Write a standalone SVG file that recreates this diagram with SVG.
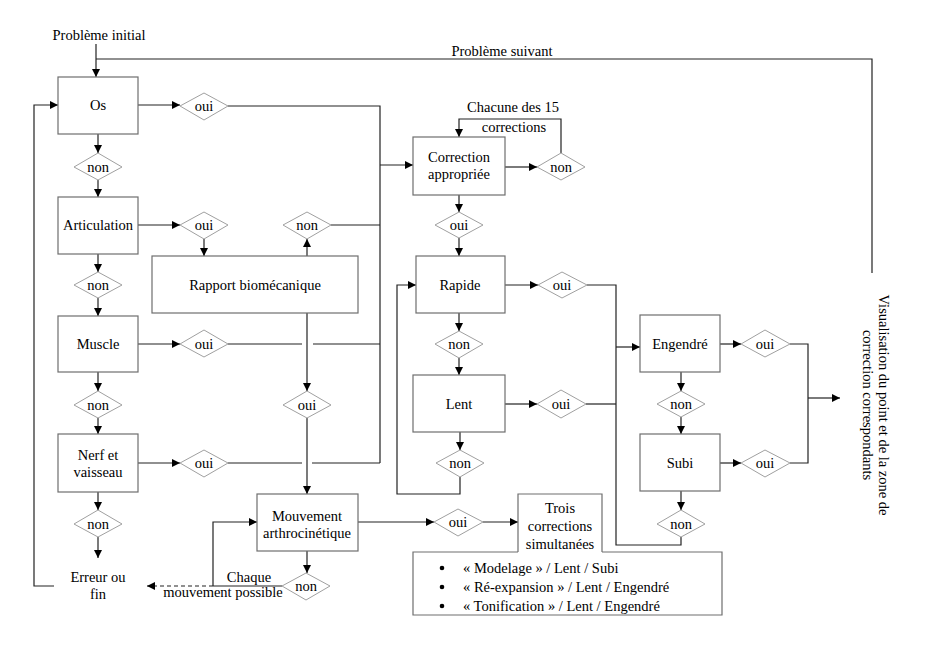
<svg xmlns="http://www.w3.org/2000/svg" width="929" height="659" viewBox="0 0 929 659">
<style>
text{font-family:"Liberation Serif","Times New Roman",serif;font-size:14.5px;fill:#000}
.c{text-anchor:middle}
.box{fill:#fff;stroke:#6e6e6e;stroke-width:1.2}
.dia{fill:#fff;stroke:#a0a0a0;stroke-width:1}
.ln{fill:none;stroke:#222;stroke-width:1.2}
.ar{marker-end:url(#ah)}
.dash{stroke-dasharray:4 3}
</style>
<defs>
<marker id="ah" viewBox="0 0 10 10" refX="10" refY="5" markerUnits="userSpaceOnUse" markerWidth="9" markerHeight="8" orient="auto">
<path d="M0,0 L10,5 L0,10 z" fill="#000"/>
</marker>
</defs>
<rect width="929" height="659" fill="#fff"/>

<g id="connectors">
<path class="ln ar" d="M96,44 V77"/>
<path class="ln" d="M872,273 V59 H96"/>
<path class="ln ar" d="M138,105 H180"/>
<path class="ln" d="M228,106 H380 V463"/>
<path class="ln ar" d="M380,165 H413"/>
<path class="ln ar" d="M98,134 V153"/>
<path class="ln ar" d="M98,180 V197"/>
<path class="ln ar" d="M138,225 H180"/>
<path class="ln ar" d="M204,239 V256"/>
<path class="ln ar" d="M307,256 V239"/>
<path class="ln" d="M331,225 H380"/>
<path class="ln ar" d="M98,254 V272"/>
<path class="ln ar" d="M98,298 V316"/>
<path class="ln ar" d="M138,344 H180"/>
<path class="ln" d="M228,344 H302 M313,344 H380"/>
<path class="ln ar" d="M98,372 V391"/>
<path class="ln ar" d="M98,418 V434"/>
<path class="ln ar" d="M138,463 H180"/>
<path class="ln" d="M228,463 H302 M312,463 H380"/>
<path class="ln ar" d="M98,492 V510"/>
<path class="ln ar" d="M98,537 V558"/>
<path class="ln ar" d="M54,586 H34 V105 H58"/>
<path class="ln ar" d="M307,313 V391"/>
<path class="ln ar" d="M307,418 V494"/>
<path class="ln ar" d="M307,551 V573"/>
<path class="ln" d="M282,586 H213"/>
<path class="ln ar dash" d="M213,586 H147"/>
<path class="ln ar" d="M213,586 V522 H257"/>
<path class="ln ar" d="M358,522 H434"/>
<path class="ln ar" d="M483,522 H518"/>
<path class="ln ar" d="M505,167 H537"/>
<path class="ln ar" d="M561,153 V119 H459 V137"/>
<path class="ln ar" d="M459,195 V212"/>
<path class="ln ar" d="M459,238 V256"/>
<path class="ln ar" d="M505,285 H538"/>
<path class="ln" d="M587,285 H616 V545 H681 V537"/>
<path class="ln ar" d="M616,347 H640"/>
<path class="ln ar" d="M459,313 V331"/>
<path class="ln ar" d="M459,358 V375"/>
<path class="ln ar" d="M505,404 H537"/>
<path class="ln" d="M586,404 H616"/>
<path class="ln ar" d="M460,432 V450"/>
<path class="ln ar" d="M460,477 V494 H397 V285 H416"/>
<path class="ln ar" d="M720,344 H741"/>
<path class="ln" d="M790,344 H808 V463 H790"/>
<path class="ln ar" d="M808,398 H840"/>
<path class="ln ar" d="M681,372 V391"/>
<path class="ln ar" d="M681,417 V434"/>
<path class="ln ar" d="M720,463 H741"/>
<path class="ln ar" d="M681,491 V510"/>
</g>

<g id="labels">
<text class="c" x="99" y="40">Problème initial</text>
<text class="c" x="502" y="56">Problème suivant</text>
<text class="c" x="513" y="112">Chacune des 15</text>
<text class="c" x="514" y="132">corrections</text>
<text class="c" x="249" y="582">Chaque</text>
<text class="c" x="223" y="597">mouvement possible</text>
</g>

<g id="os"><rect class="box" x="58" y="77" width="80" height="57"/><text class="c" x="98" y="110">Os</text></g>
<g id="articulation"><rect class="box" x="58" y="197" width="80" height="57"/><text class="c" x="98" y="230">Articulation</text></g>
<g id="muscle"><rect class="box" x="58" y="316" width="80" height="56"/><text class="c" x="98" y="349">Muscle</text></g>
<g id="nerf"><rect class="box" x="58" y="434" width="80" height="58"/><text class="c" x="98" y="460">Nerf et</text><text class="c" x="98" y="477">vaisseau</text></g>
<g id="erreur"><text class="c" x="98" y="582">Erreur ou</text><text class="c" x="98" y="599">fin</text></g>
<g id="rapport"><rect class="box" x="152" y="256" width="206" height="57"/><text class="c" x="255" y="290">Rapport biomécanique</text></g>
<g id="mouvement"><rect class="box" x="257" y="494" width="101" height="57"/><text class="c" x="307" y="521">Mouvement</text><text class="c" x="307" y="538">arthrocinétique</text></g>
<g id="correction"><rect class="box" x="413" y="137" width="92" height="58"/><text class="c" x="459" y="162">Correction</text><text class="c" x="459" y="179">appropriée</text></g>
<g id="rapide"><rect class="box" x="416" y="256" width="89" height="57"/><text class="c" x="460" y="290">Rapide</text></g>
<g id="lent"><rect class="box" x="413" y="375" width="92" height="57"/><text class="c" x="459" y="409">Lent</text></g>
<g id="engendre"><rect class="box" x="640" y="315" width="80" height="57"/><text class="c" x="680" y="349">Engendré</text></g>
<g id="subi"><rect class="box" x="640" y="434" width="80" height="57"/><text class="c" x="680" y="468">Subi</text></g>
<g id="trois"><path class="box" d="M518,552 V494 H602 V552"/><text class="c" x="560" y="513">Trois</text><text class="c" x="560" y="531">corrections</text><text class="c" x="560" y="549">simultanées</text></g>
<g id="liste"><path class="box" fill="none" d="M518,552 H413 V615 H722 V552 H602"/>
<circle cx="442" cy="568" r="2.3" fill="#000"/><circle cx="442" cy="587" r="2.3" fill="#000"/><circle cx="442" cy="606" r="2.3" fill="#000"/>
<text x="463" y="573">« Modelage » / Lent / Subi</text>
<text x="463" y="592">« Ré-expansion » / Lent / Engendré</text>
<text x="463" y="611">« Tonification » / Lent / Engendré</text></g>
<g id="visualisation"><text class="c" transform="translate(879,405) rotate(90)">Visualisation du point et de la zone de</text><text class="c" transform="translate(863,405) rotate(90)">correction correspondants</text></g>

<g id="d-os-oui"><path class="dia" d="M180,106 L204,93 L228,106 L204,120 z"/><text class="c" x="204" y="111">oui</text></g>
<g id="d-os-non"><path class="dia" d="M74,167 L98,153 L122,167 L98,180 z"/><text class="c" x="98" y="172">non</text></g>
<g id="d-art-oui"><path class="dia" d="M180,225 L204,212 L228,225 L204,239 z"/><text class="c" x="204" y="230">oui</text></g>
<g id="d-rap-non"><path class="dia" d="M283,225 L307,212 L331,225 L307,239 z"/><text class="c" x="307" y="230">non</text></g>
<g id="d-art-non"><path class="dia" d="M74,285 L98,272 L122,285 L98,298 z"/><text class="c" x="98" y="290">non</text></g>
<g id="d-mus-oui"><path class="dia" d="M180,344 L204,330 L228,344 L204,357 z"/><text class="c" x="204" y="349">oui</text></g>
<g id="d-mus-non"><path class="dia" d="M74,405 L98,391 L122,405 L98,418 z"/><text class="c" x="98" y="410">non</text></g>
<g id="d-rap-oui"><path class="dia" d="M283,405 L307,391 L331,405 L307,418 z"/><text class="c" x="307" y="410">oui</text></g>
<g id="d-ner-oui"><path class="dia" d="M180,463 L204,450 L228,463 L204,477 z"/><text class="c" x="204" y="468">oui</text></g>
<g id="d-ner-non"><path class="dia" d="M74,524 L98,510 L122,524 L98,537 z"/><text class="c" x="98" y="529">non</text></g>
<g id="d-mou-non"><path class="dia" d="M282,586 L306,573 L330,586 L306,600 z"/><text class="c" x="306" y="591">non</text></g>
<g id="d-mou-oui"><path class="dia" d="M434,522 L458,509 L483,522 L458,536 z"/><text class="c" x="458" y="527">oui</text></g>
<g id="d-cor-non"><path class="dia" d="M537,167 L561,153 L585,167 L561,180 z"/><text class="c" x="561" y="172">non</text></g>
<g id="d-cor-oui"><path class="dia" d="M435,225 L459,212 L483,225 L459,238 z"/><text class="c" x="459" y="230">oui</text></g>
<g id="d-rpd-oui"><path class="dia" d="M538,285 L562,272 L587,285 L562,298 z"/><text class="c" x="562" y="290">oui</text></g>
<g id="d-rpd-non"><path class="dia" d="M435,344 L459,331 L483,344 L459,358 z"/><text class="c" x="459" y="349">non</text></g>
<g id="d-lnt-oui"><path class="dia" d="M537,404 L561,390 L586,404 L561,418 z"/><text class="c" x="561" y="409">oui</text></g>
<g id="d-lnt-non"><path class="dia" d="M436,463 L460,450 L484,463 L460,477 z"/><text class="c" x="460" y="468">non</text></g>
<g id="d-eng-oui"><path class="dia" d="M741,344 L765,330 L790,344 L765,357 z"/><text class="c" x="765" y="349">oui</text></g>
<g id="d-eng-non"><path class="dia" d="M657,404 L681,391 L705,404 L681,417 z"/><text class="c" x="681" y="409">non</text></g>
<g id="d-sub-oui"><path class="dia" d="M741,463 L765,450 L790,463 L765,477 z"/><text class="c" x="765" y="468">oui</text></g>
<g id="d-sub-non"><path class="dia" d="M657,524 L681,510 L705,524 L681,537 z"/><text class="c" x="681" y="529">non</text></g>
</svg>
